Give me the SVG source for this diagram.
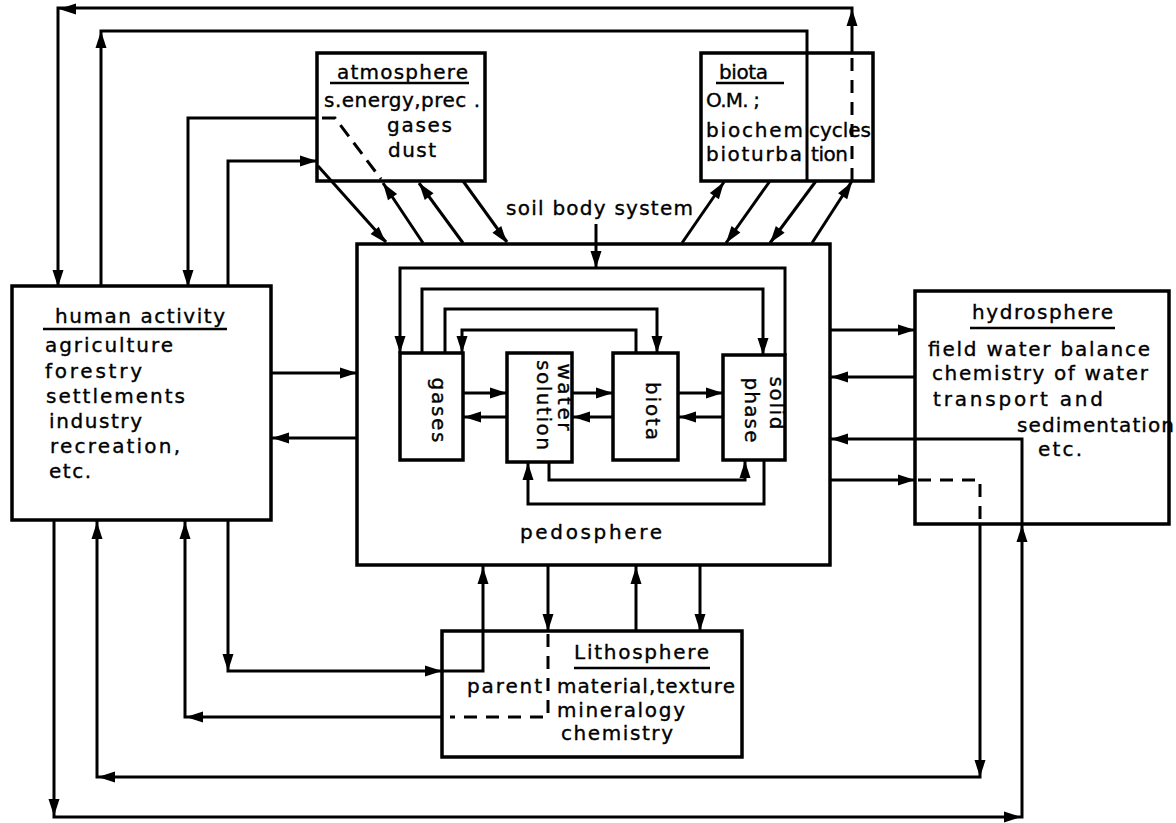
<svg xmlns="http://www.w3.org/2000/svg" xmlns:xlink="http://www.w3.org/1999/xlink" width="1176" height="823" viewBox="0 0 1176 823">
<style>
.box{fill:#fff;stroke:#000;stroke-width:3.5}
.ln{fill:none;stroke:#000;stroke-width:3;stroke-linejoin:miter}
.dash{fill:none;stroke:#000;stroke-width:3;stroke-dasharray:13,9}
.ul{stroke:#000;stroke-width:2.5}
text{font-family:"DejaVu Sans","Liberation Sans",sans-serif;font-size:20px;fill:#000;stroke:#000;stroke-width:0.35}
</style>
<defs>
<path id="ah" d="M0,0 L-17,-5.5 L-17,5.5 Z" fill="#000"/>
</defs>
<rect width="1176" height="823" fill="#fff"/>

<g id="human-activity">
<rect class="box" x="12" y="286" width="259" height="234"/>
<text x="55" y="323" textLength="170" lengthAdjust="spacing">human activity</text>
<line class="ul" x1="43" y1="329" x2="227" y2="329"/>
<text x="45" y="352" textLength="128" lengthAdjust="spacing">agriculture</text>
<text x="45" y="378" textLength="97" lengthAdjust="spacing">forestry</text>
<text x="46" y="403" textLength="139" lengthAdjust="spacing">settlements</text>
<text x="49" y="428" textLength="93" lengthAdjust="spacing">industry</text>
<text x="50" y="453" textLength="130" lengthAdjust="spacing">recreation,</text>
<text x="49" y="478" textLength="42" lengthAdjust="spacing">etc.</text>
</g>

<g id="atmosphere">
<rect class="box" x="317" y="53" width="168" height="128"/>
<text x="337" y="79" textLength="131" lengthAdjust="spacing">atmosphere</text>
<line class="ul" x1="330" y1="83" x2="469" y2="83"/>
<text x="324" y="107" textLength="156" lengthAdjust="spacing">s.energy,prec .</text>
<text x="387" y="132" textLength="65" lengthAdjust="spacing">gases</text>
<text x="388" y="157" textLength="48" lengthAdjust="spacing">dust</text>
</g>

<g id="biota">
<rect class="box" x="701" y="53" width="172" height="128"/>
<text x="719" y="79" textLength="49" lengthAdjust="spacing">biota</text>
<line class="ul" x1="716" y1="83" x2="784" y2="83"/>
<text x="706" y="107" textLength="54" lengthAdjust="spacing">O.M. ;</text>
<text x="706" y="137" textLength="97" lengthAdjust="spacing">biochem</text>
<text x="809" y="137" textLength="62" lengthAdjust="spacing">cycles</text>
<text x="706" y="161" textLength="96" lengthAdjust="spacing">bioturba</text>
<text x="811" y="161" textLength="37" lengthAdjust="spacing">tion</text>
</g>

<g id="pedosphere">
<rect class="box" x="357" y="244" width="473" height="321"/>
<text x="520" y="539" textLength="142" lengthAdjust="spacing">pedosphere</text>
<text x="506" y="215" textLength="187" lengthAdjust="spacing">soil body system</text>
</g>

<g id="gases">
<rect class="box" x="400" y="353" width="63" height="107"/>
<text transform="translate(432,410) rotate(90)" text-anchor="middle" textLength="65" lengthAdjust="spacing">gases</text>
</g>

<g id="water-solution">
<rect class="box" x="507" y="353" width="65" height="109"/>
<text transform="translate(558,397) rotate(90)" text-anchor="middle" textLength="67" lengthAdjust="spacing">water</text>
<text transform="translate(537,405) rotate(90)" text-anchor="middle" textLength="90" lengthAdjust="spacing">solution</text>
</g>

<g id="biota-inner">
<rect class="box" x="613" y="353" width="65" height="107"/>
<text transform="translate(646,411) rotate(90)" text-anchor="middle" textLength="58" lengthAdjust="spacing">biota</text>
</g>

<g id="solid-phase">
<rect class="box" x="723" y="355" width="62" height="105"/>
<text transform="translate(770,403) rotate(90)" text-anchor="middle" textLength="53" lengthAdjust="spacing">solid</text>
<text transform="translate(745,410) rotate(90)" text-anchor="middle" textLength="65" lengthAdjust="spacing">phase</text>
</g>

<g id="hydrosphere">
<rect class="box" x="915" y="291" width="254" height="233"/>
<text x="972" y="319" textLength="141" lengthAdjust="spacing">hydrosphere</text>
<line class="ul" x1="970" y1="328" x2="1115" y2="328"/>
<text x="928" y="356" textLength="222" lengthAdjust="spacing">field water balance</text>
<text x="932" y="380" textLength="216" lengthAdjust="spacing">chemistry of water</text>
<text x="933" y="406" textLength="170" lengthAdjust="spacing">transport and</text>
<text x="1017" y="432" textLength="157" lengthAdjust="spacing">sedimentation</text>
<text x="1038" y="456" textLength="44" lengthAdjust="spacing">etc.</text>
</g>

<g id="lithosphere">
<rect class="box" x="442" y="631" width="300" height="126"/>
<text x="574" y="659" textLength="135" lengthAdjust="spacing">Lithosphere</text>
<line class="ul" x1="574" y1="668" x2="710" y2="668"/>
<text x="467" y="693" textLength="75" lengthAdjust="spacing">parent</text>
<text x="557" y="693" textLength="178" lengthAdjust="spacing">material,texture</text>
<text x="557" y="717" textLength="128" lengthAdjust="spacing">mineralogy</text>
<text x="561" y="740" textLength="112" lengthAdjust="spacing">chemistry</text>
</g>

<g id="connectors">
<polyline class="ln" points="812,243 852,181"/>
<line class="dash" x1="852" y1="181" x2="852" y2="53"/>
<polyline class="ln" points="852,53 852,8 58,8 58,286"/>
<use xlink:href="#ah" transform="translate(852,182) rotate(-56.7)"/>
<use xlink:href="#ah" transform="translate(852,9) rotate(-90)"/>
<use xlink:href="#ah" transform="translate(59,9) rotate(180)"/>
<use xlink:href="#ah" transform="translate(58,287) rotate(90)"/>
<polyline class="ln" points="101,286 101,31 807,31 807,181"/>
<use xlink:href="#ah" transform="translate(101,31) rotate(-90)"/>
<polyline class="ln" points="317,118 188,118 188,286"/>
<use xlink:href="#ah" transform="translate(188,287) rotate(90)"/>
<polyline class="dash" points="322,118 335,118 381,179" style="stroke-dasharray:14,8"/>
<polyline class="ln" points="228,286 228,161 317,161"/>
<use xlink:href="#ah" transform="translate(317,161) rotate(0)"/>
<line class="ln" x1="318" y1="166" x2="386" y2="242"/>
<use xlink:href="#ah" transform="translate(386,243) rotate(48.2)"/>
<line class="ln" x1="423" y1="243" x2="383" y2="183"/>
<use xlink:href="#ah" transform="translate(383,183) rotate(-124.1)"/>
<line class="ln" x1="463" y1="243" x2="419" y2="183"/>
<use xlink:href="#ah" transform="translate(419,183) rotate(-126.7)"/>
<line class="ln" x1="463" y1="181" x2="507" y2="242"/>
<use xlink:href="#ah" transform="translate(507,243) rotate(53.3)"/>
<line class="ln" x1="682" y1="243" x2="724" y2="182"/>
<use xlink:href="#ah" transform="translate(724,182) rotate(-55.5)"/>
<line class="ln" x1="770" y1="181" x2="726" y2="243"/>
<use xlink:href="#ah" transform="translate(726,243) rotate(125.8)"/>
<line class="ln" x1="816" y1="181" x2="770" y2="243"/>
<use xlink:href="#ah" transform="translate(770,243) rotate(127)"/>
<line class="ln" x1="596" y1="224" x2="596" y2="268"/>
<use xlink:href="#ah" transform="translate(596,268) rotate(90)"/>
<line class="ln" x1="271" y1="373" x2="357" y2="373"/>
<use xlink:href="#ah" transform="translate(357,373) rotate(0)"/>
<line class="ln" x1="357" y1="438" x2="271" y2="438"/>
<use xlink:href="#ah" transform="translate(272,438) rotate(180)"/>
<line class="ln" x1="830" y1="330" x2="915" y2="330"/>
<use xlink:href="#ah" transform="translate(915,330) rotate(0)"/>
<line class="ln" x1="915" y1="377" x2="830" y2="377"/>
<use xlink:href="#ah" transform="translate(831,377) rotate(180)"/>
<polyline class="ln" points="54,520 54,817 1022,817 1022,439 830,439"/>
<use xlink:href="#ah" transform="translate(54,816) rotate(90)"/>
<use xlink:href="#ah" transform="translate(1021,817) rotate(0)"/>
<use xlink:href="#ah" transform="translate(1022,525) rotate(-90)"/>
<use xlink:href="#ah" transform="translate(831,439) rotate(180)"/>
<line class="ln" x1="830" y1="480" x2="915" y2="480"/>
<use xlink:href="#ah" transform="translate(915,480) rotate(0)"/>
<polyline class="dash" points="918,480 980,480 980,524"/>
<polyline class="ln" points="980,524 980,777 97,777 97,520"/>
<use xlink:href="#ah" transform="translate(980,777) rotate(90)"/>
<use xlink:href="#ah" transform="translate(98,777) rotate(180)"/>
<use xlink:href="#ah" transform="translate(97,522) rotate(-90)"/>
<polyline class="ln" points="228,520 228,671 483,671 483,565"/>
<use xlink:href="#ah" transform="translate(228,671) rotate(90)"/>
<use xlink:href="#ah" transform="translate(442,671) rotate(0)"/>
<use xlink:href="#ah" transform="translate(483,567) rotate(-90)"/>
<line class="ln" x1="548" y1="565" x2="548" y2="631"/>
<use xlink:href="#ah" transform="translate(548,631) rotate(90)"/>
<polyline class="dash" points="548,634 548,717 450,717"/>
<polyline class="ln" points="442,717 185,717 185,520"/>
<use xlink:href="#ah" transform="translate(186,717) rotate(180)"/>
<use xlink:href="#ah" transform="translate(185,522) rotate(-90)"/>
<line class="ln" x1="636" y1="631" x2="636" y2="565"/>
<use xlink:href="#ah" transform="translate(636,567) rotate(-90)"/>
<line class="ln" x1="700" y1="565" x2="700" y2="631"/>
<use xlink:href="#ah" transform="translate(700,631) rotate(90)"/>
<polyline class="ln" points="785,355 785,268 400,268 400,353"/>
<use xlink:href="#ah" transform="translate(400,353) rotate(90)"/>
<polyline class="ln" points="422,353 422,289 763,289 763,355"/>
<use xlink:href="#ah" transform="translate(763,355) rotate(90)"/>
<polyline class="ln" points="445,353 445,309 657,309 657,353"/>
<use xlink:href="#ah" transform="translate(657,353) rotate(90)"/>
<polyline class="ln" points="636,353 636,330 462,330 462,353"/>
<use xlink:href="#ah" transform="translate(462,353) rotate(90)"/>
<line class="ln" x1="463" y1="393" x2="507" y2="393"/>
<use xlink:href="#ah" transform="translate(507,393) rotate(0)"/>
<line class="ln" x1="507" y1="417" x2="463" y2="417"/>
<use xlink:href="#ah" transform="translate(464,417) rotate(180)"/>
<line class="ln" x1="572" y1="393" x2="613" y2="393"/>
<use xlink:href="#ah" transform="translate(613,393) rotate(0)"/>
<line class="ln" x1="613" y1="417" x2="572" y2="417"/>
<use xlink:href="#ah" transform="translate(573,417) rotate(180)"/>
<line class="ln" x1="678" y1="393" x2="723" y2="393"/>
<use xlink:href="#ah" transform="translate(723,393) rotate(0)"/>
<line class="ln" x1="723" y1="417" x2="678" y2="417"/>
<use xlink:href="#ah" transform="translate(679,417) rotate(180)"/>
<polyline class="ln" points="549,462 549,480 745,480 745,460"/>
<use xlink:href="#ah" transform="translate(745,461) rotate(-90)"/>
<polyline class="ln" points="764,460 764,504 528,504 528,462"/>
<use xlink:href="#ah" transform="translate(528,463) rotate(-90)"/>
</g>
</svg>
